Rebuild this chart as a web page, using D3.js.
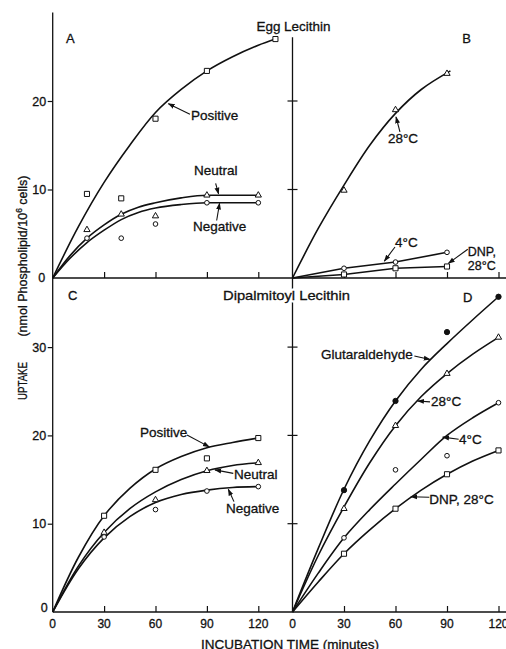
<!DOCTYPE html>
<html><head><meta charset="utf-8">
<script src="https://cdn.jsdelivr.net/npm/d3@7"></script>
<style>
body{margin:0;background:#fff}
svg{display:block}
text{font-family:"Liberation Sans",Arial,Helvetica,sans-serif;fill:#111;stroke:#111;stroke-width:0.3px}
text.halo{fill:#fff;stroke:#fff;stroke-width:5px;stroke-linejoin:round}
</style>
</head><body>
<svg id="chart" width="506" height="649"></svg>
<script>
// ---------- DATA ----------
const timeTicks = [0, 30, 60, 90, 120];

// Panel A: Egg lecithin, charge of liposome
const aPosT = [20, 40, 60, 90, 130];
const aPosV = [9.5, 9.0, 18.0, 23.4, 27.0];
const aNeuT = [20, 40, 60, 90, 120];
const aNeuV = [5.45, 7.2, 7.0, 9.35, 9.35];
const aNegT = [20, 40, 60, 90, 120];
const aNegV = [4.5, 4.5, 6.1, 8.5, 8.5];
// fitted curves, panel A
const aPosCurveT = [0, 15, 30, 45, 60, 75, 90, 105, 120, 130];
const aPosCurveV = [0, 5.8, 10.8, 15.0, 18.7, 21.3, 23.4, 25.0, 26.3, 27.0];
const aCurveT = [0, 10, 20, 30, 40, 50, 60, 75, 90, 120];
const aNeuCurveV = [0, 2.5, 4.5, 6.0, 7.2, 8.0, 8.5, 9.05, 9.35, 9.35];
const aNegCurveV = [0, 2.2, 4.0, 5.4, 6.6, 7.4, 7.9, 8.3, 8.5, 8.5];

// Panel B: Egg lecithin, temperature / DNP
const bTimes = [30, 60, 90];
const b28V = [9.9, 19.0, 23.1];
const b4V = [1.1, 1.8, 2.9];
const bDnpV = [0.4, 1.1, 1.3];
const b28CurveT = [0, 15, 30, 45, 60, 75, 92];
const b28CurveV = [0, 5.6, 10.5, 15.0, 18.6, 21.3, 23.4];

// Panel C: Dipalmitoyl lecithin, charge
const cTimes = [30, 60, 90, 120];
const cPosV = [10.9, 16.1, 17.4, 19.7];
const cNeuV = [9.0, 12.7, 16.0, 16.9];
const cNegV = [8.5, 11.6, 13.7, 14.2];
const curveT = [0, 15, 30, 45, 60, 75, 90, 105, 120];
const cPosCurveV = [0, 6.2, 10.9, 14.0, 16.2, 17.6, 18.6, 19.2, 19.7];
const cNeuCurveV = [0, 5.2, 9.0, 11.7, 13.6, 15.0, 16.0, 16.6, 16.9];
const cNegCurveV = [0, 4.9, 8.4, 10.8, 12.4, 13.3, 13.8, 14.1, 14.2];

// Panel D: Dipalmitoyl lecithin, glutaraldehyde / temperature / DNP
const dTimes = [30, 60, 90, 120];
const dGluV = [13.8, 23.9, 31.7, 35.7];
const d28V = [11.7, 21.1, 27.0, 31.1];
const d4V = [8.4, 16.1, 17.7, 23.7];
const dDnpV = [6.6, 11.7, 15.6, 18.3];
const dGluCurveV = [0, 7.2, 13.9, 19.4, 23.9, 27.5, 30.4, 33.1, 35.7];
const d28CurveV = [0, 6.4, 11.9, 16.9, 21.1, 24.4, 27.0, 29.2, 31.1];
const d4CurveV = [0, 4.4, 8.4, 11.6, 14.5, 17.3, 20.0, 22.0, 23.7];
const dDnpCurveV = [0, 3.4, 6.6, 9.3, 11.7, 13.8, 15.6, 17.1, 18.3];

const yTicksTop = [10, 20];
const yTicksBot = [10, 20, 30];

// ---------- LAYOUT ----------
const svg = d3.select("#chart");
const xL = d3.scaleLinear([0, 120], [52.7, 258.3]);
const xR = d3.scaleLinear([0, 120], [292.5, 498.5]);
const yT = d3.scaleLinear([0, 30], [278, 12.5]);
const yB = d3.scaleLinear([0, 10], [612, 523.7]);

const INK = "#111";
const zip = (t, v) => t.map((d, i) => [d, v[i]]);

svg.append("defs").append("marker")
  .attr("id", "arr").attr("viewBox", "0 0 10 10").attr("refX", 9).attr("refY", 5)
  .attr("markerWidth", 7).attr("markerHeight", 7).attr("orient", "auto-start-reverse")
  .attr("markerUnits", "userSpaceOnUse")
  .append("path").attr("d", "M0,1.5 L10,5 L0,8.5 Z").attr("fill", INK);

// ---------- AXES ----------
const ax = svg.append("g").attr("stroke", INK).attr("stroke-width", 1.3).attr("fill", "none");
ax.append("line").attr("x1", xL(0)).attr("x2", xL(0)).attr("y1", yT(30)).attr("y2", yB(0));
ax.append("line").attr("x1", xR(0)).attr("x2", xR(0)).attr("y1", yT(27.2)).attr("y2", yB(0));
ax.append("line").attr("x1", xL(0)).attr("x2", 506).attr("y1", yT(0)).attr("y2", yT(0));
ax.append("line").attr("x1", xL(0)).attr("x2", 506).attr("y1", yB(0)).attr("y2", yB(0));

function xTicks(xs, y0) {
  const g = svg.append("g").attr("transform", `translate(0,${y0})`)
    .call(d3.axisBottom(xs).tickValues(timeTicks.slice(1)).tickSize(-6).tickSizeOuter(0).tickFormat(""));
  g.select(".domain").remove();
  g.selectAll("line").attr("stroke", INK).attr("stroke-width", 1.2);
}
xTicks(xL, yT(0)); xTicks(xR, yT(0)); xTicks(xL, yB(0)); xTicks(xR, yB(0));

function yLeftTicks(ys, vals) {
  const g = svg.append("g").attr("transform", `translate(${xL(0)},0)`)
    .call(d3.axisLeft(ys).tickValues(vals).tickSize(5).tickPadding(1.5));
  g.select(".domain").remove();
  g.selectAll("line").attr("stroke", INK).attr("stroke-width", 1.2);
  g.selectAll("text").attr("font-size", 12.5).attr("font-family", null).attr("fill", null);
}
yLeftTicks(yT, yTicksTop);
yLeftTicks(yB, yTicksBot);

function yCrossTicks(ys, vals) {
  svg.append("g").selectAll("line").data(vals).join("line")
    .attr("x1", xR(0) - 5).attr("x2", xR(0) + 5)
    .attr("y1", d => ys(d)).attr("y2", d => ys(d))
    .attr("stroke", INK).attr("stroke-width", 1.2);
}
yCrossTicks(yT, yTicksTop);
yCrossTicks(yB, yTicksBot);

svg.append("text").attr("x", xL(0) - 7.5).attr("y", yT(0)).attr("dy", "0.35em")
  .attr("text-anchor", "end").attr("font-size", 12.5).text("0");
svg.append("text").attr("x", xL(0) - 5).attr("y", yB(0)).attr("text-anchor", "end")
  .attr("font-size", 12.5).text("0");

[xL, xR].forEach(xs => {
  svg.append("g").selectAll("text").data(timeTicks).join("text")
    .attr("x", d => xs(d)).attr("y", yB(0) + 16)
    .attr("text-anchor", "middle").attr("font-size", 12).text(d => d);
});

svg.append("text").attr("x", 290).attr("y", 649).attr("text-anchor", "middle")
  .attr("font-size", 13.5).text("INCUBATION TIME (minutes)");
const yt = svg.append("g").attr("transform", "translate(27,0) rotate(-90)");
yt.append("text").attr("x", -381).attr("y", 0).attr("text-anchor", "middle")
  .attr("font-size", 13.5).attr("textLength", 38).attr("lengthAdjust", "spacingAndGlyphs").text("UPTAKE");
const yt2 = yt.append("text").attr("x", -256).attr("y", 0).attr("text-anchor", "middle").attr("font-size", 12.5);
yt2.append("tspan").text("(nmol Phospholipid/10");
yt2.append("tspan").attr("dy", -5).attr("font-size", 8.5).text("6");
yt2.append("tspan").attr("dy", 5).text(" cells)");

// ---------- CURVES ----------
const gC = svg.append("g").attr("fill", "none").attr("stroke", INK).attr("stroke-width", 1.6);
function curve(xs, ys, pts, type) {
  gC.append("path").datum(pts)
    .attr("d", d3.line().x(d => xs(d[0])).y(d => ys(d[1])).curve(type || d3.curveCatmullRom.alpha(0.5)));
}
curve(xL, yT, zip(aPosCurveT, aPosCurveV));
curve(xL, yT, zip(aCurveT, aNeuCurveV), d3.curveMonotoneX);
curve(xL, yT, zip(aCurveT, aNegCurveV), d3.curveMonotoneX);
curve(xR, yT, zip(b28CurveT, b28CurveV));
curve(xR, yT, [[0, 0]].concat(zip(bTimes, b4V)), d3.curveLinear);
curve(xR, yT, [[0, 0]].concat(zip(bTimes, bDnpV)), d3.curveLinear);
curve(xL, yB, zip(curveT, cPosCurveV));
curve(xL, yB, zip(curveT, cNeuCurveV));
curve(xL, yB, zip(curveT, cNegCurveV));
curve(xR, yB, zip(curveT, dGluCurveV));
curve(xR, yB, zip(curveT, d28CurveV));
curve(xR, yB, zip(curveT, d4CurveV));
curve(xR, yB, zip(curveT, dDnpCurveV));

// ---------- MARKERS ----------
const gM = svg.append("g");
const SYM = {
  square: d3.symbol(d3.symbolSquare, 26)(),
  circle: d3.symbol(d3.symbolCircle, 17)(),
  triangle: d3.symbol(d3.symbolTriangle, 17)(),
  dot: d3.symbol(d3.symbolCircle, 22)()
};
function points(xs, ys, t, v, kind) {
  gM.append("g").selectAll("path").data(zip(t, v)).join("path")
    .attr("transform", d => `translate(${xs(d[0])},${ys(d[1])})`)
    .attr("d", SYM[kind])
    .attr("fill", kind === "dot" ? INK : "#fff")
    .attr("stroke", INK).attr("stroke-width", 1);
}
points(xL, yT, aPosT, aPosV, "square");
points(xL, yT, aNeuT, aNeuV, "triangle");
points(xL, yT, aNegT, aNegV, "circle");
points(xR, yT, bTimes, b28V, "triangle");
points(xR, yT, bTimes, b4V, "circle");
points(xR, yT, bTimes, bDnpV, "square");
points(xL, yB, cTimes, cPosV, "square");
points(xL, yB, cTimes, cNeuV, "triangle");
points(xL, yB, cTimes, cNegV, "circle");
points(xR, yB, dTimes, dGluV, "dot");
points(xR, yB, dTimes, d28V, "triangle");
points(xR, yB, dTimes, d4V, "circle");
points(xR, yB, dTimes, dDnpV, "square");

// ---------- LABELS & ARROWS (positions in data units) ----------
const FS = 13.5;
function label(xs, ys, t, v, txt, anchor, size, halo, len) {
  const parts = halo ? ["halo", null] : [null];
  parts.forEach(cls => {
    const el = svg.append("text").attr("class", cls).attr("x", xs(t)).attr("y", ys(v))
      .attr("text-anchor", anchor || "start").attr("font-size", size || FS).text(txt);
    if (len) el.attr("textLength", len).attr("lengthAdjust", "spacingAndGlyphs");
  });
}
function arrow(xs, ys, t1, v1, t2, v2) {
  svg.append("line").attr("x1", xs(t1)).attr("y1", ys(v1)).attr("x2", xs(t2)).attr("y2", ys(v2))
    .attr("stroke", INK).attr("stroke-width", 1.1).attr("marker-end", "url(#arr)");
}
label(xL, yT, 7.8, 26.6, "A", "start", 13);
label(xR, yT, 98.9, 26.6, "B", "start", 13);
label(xL, yB, 8.9, 35.3, "C", "start", 13);
label(xR, yB, 99.3, 35.1, "D", "start", 13);
label(xR, yT, -21, 27.9, "Egg Lecithin", "start", 13.5, false, 74);
label(xL, yB, 99.4, 35.3, "Dipalmitoyl Lecithin", "start", 13.5, true, 127);

// A
label(xL, yT, 80.7, 17.85, "Positive");
arrow(xL, yT, 80.1, 18.5, 67.5, 19.7);
label(xL, yT, 82.5, 11.6, "Neutral");
arrow(xL, yT, 95.1, 10.7, 96.8, 9.5);
label(xL, yT, 81.9, 5.3, "Negative");
arrow(xL, yT, 95.7, 6.5, 97.4, 8.45);
// B
label(xR, yT, 55.6, 15.2, "28°C");
arrow(xR, yT, 62.6, 16.5, 60.3, 18.2);
label(xR, yT, 59.7, 3.45, "4°C");
arrow(xR, yT, 59.7, 3.5, 53.5, 1.9);
label(xR, yT, 102.1, 2.45, "DNP,", "start", 12.5);
label(xR, yT, 102.1, 0.9, "28°C", "start", 12.5);
arrow(xR, yT, 102.1, 3.25, 90.8, 1.65);
// C
label(xL, yB, 51, 19.85, "Positive");
arrow(xL, yB, 78.4, 20.05, 91.4, 18.7);
label(xL, yB, 105.8, 15.06, "Neutral");
arrow(xL, yB, 105.4, 15.7, 94.7, 16.1);
label(xL, yB, 101.2, 11.2, "Negative");
arrow(xL, yB, 105.8, 12.5, 102.5, 13.9);
// D
label(xR, yB, 70.0, 28.65, "Glutaraldehyde", "end");
arrow(xR, yB, 71.0, 29.0, 80.1, 28.6);
label(xR, yB, 80.7, 23.36, "28°C");
arrow(xR, yB, 80.1, 23.8, 72.9, 23.9);
label(xR, yB, 97, 19.0, "4°C");
arrow(xR, yB, 96.8, 19.56, 87.5, 19.8);
label(xR, yB, 79.7, 12.2, "DNP, 28°C");
arrow(xR, yB, 79.7, 13.0, 69.0, 13.05);
</script>
</body></html>
